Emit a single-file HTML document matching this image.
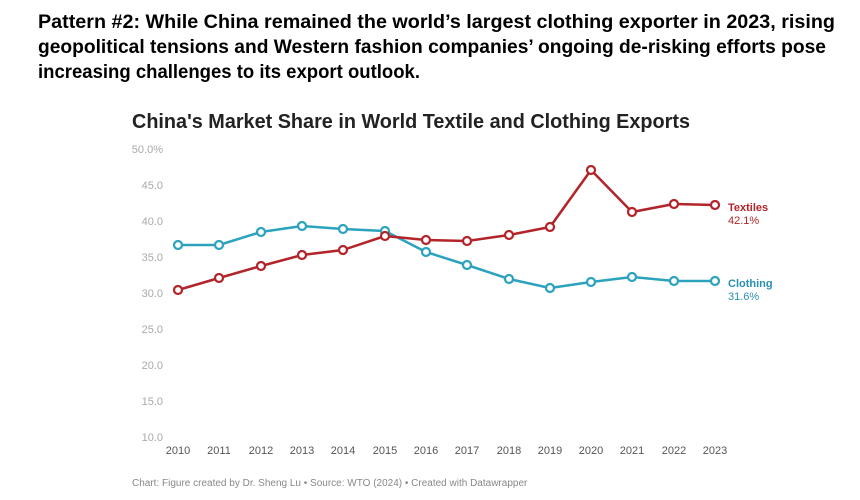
<!DOCTYPE html>
<html><head><meta charset="utf-8"><style>
body{margin:0;background:#fff;width:860px;height:500px;overflow:hidden;font-family:"Liberation Sans",sans-serif}
</style></head><body>
<svg width="860" height="500" style="position:absolute;left:0;top:0" font-family="Liberation Sans, sans-serif">
<g font-size="19" font-weight="bold" fill="#000">
<text x="38" y="28" textLength="797" lengthAdjust="spacingAndGlyphs">Pattern #2: While China remained the world’s largest clothing exporter in 2023, rising</text>
<text x="38" y="53" textLength="788" lengthAdjust="spacingAndGlyphs">geopolitical tensions and Western fashion companies’ ongoing de-risking efforts pose</text>
<text x="38" y="78" textLength="382" lengthAdjust="spacingAndGlyphs">increasing challenges to its export outlook.</text>
</g>
<text x="132" y="128" font-size="20" font-weight="bold" fill="#222" textLength="558" lengthAdjust="spacingAndGlyphs">China's Market Share in World Textile and Clothing Exports</text>
<g font-size="11" fill="#aaa" text-anchor="end">
<text x="163" y="153">50.0%</text><text x="163" y="189">45.0</text><text x="163" y="225">40.0</text><text x="163" y="261">35.0</text><text x="163" y="297">30.0</text><text x="163" y="333">25.0</text><text x="163" y="369">20.0</text><text x="163" y="405">15.0</text><text x="163" y="441">10.0</text>
</g>
<g font-size="11" fill="#555" text-anchor="middle">
<text x="178" y="454">2010</text><text x="219" y="454">2011</text><text x="261" y="454">2012</text><text x="302" y="454">2013</text><text x="343" y="454">2014</text><text x="385" y="454">2015</text><text x="426" y="454">2016</text><text x="467" y="454">2017</text><text x="509" y="454">2018</text><text x="550" y="454">2019</text><text x="591" y="454">2020</text><text x="632" y="454">2021</text><text x="674" y="454">2022</text><text x="715" y="454">2023</text>
</g>
<g fill="none" stroke-width="2.5" stroke-linejoin="round">
<polyline stroke="#2ba3bd" points="178,245 219,245 261,232 302,226 343,229 385,231 426,252 467,265 509,279 550,288 591,282 632,277 674,281 715,281"/>
<polyline stroke="#b2242a" points="178,290 219,278 261,266 302,255 343,250 385,236 426,240 467,241 509,235 550,227 591,170 632,212 674,204 715,205"/>
</g>
<g fill="#fff" stroke="#2ba3bd" stroke-width="2.2">
<circle cx="178" cy="245" r="4"/><circle cx="219" cy="245" r="4"/><circle cx="261" cy="232" r="4"/><circle cx="302" cy="226" r="4"/><circle cx="343" cy="229" r="4"/><circle cx="385" cy="231" r="4"/><circle cx="426" cy="252" r="4"/><circle cx="467" cy="265" r="4"/><circle cx="509" cy="279" r="4"/><circle cx="550" cy="288" r="4"/><circle cx="591" cy="282" r="4"/><circle cx="632" cy="277" r="4"/><circle cx="674" cy="281" r="4"/><circle cx="715" cy="281" r="4"/>
</g>
<g fill="#fff" stroke="#b2242a" stroke-width="2.2">
<circle cx="178" cy="290" r="4"/><circle cx="219" cy="278" r="4"/><circle cx="261" cy="266" r="4"/><circle cx="302" cy="255" r="4"/><circle cx="343" cy="250" r="4"/><circle cx="385" cy="236" r="4"/><circle cx="426" cy="240" r="4"/><circle cx="467" cy="241" r="4"/><circle cx="509" cy="235" r="4"/><circle cx="550" cy="227" r="4"/><circle cx="591" cy="170" r="4"/><circle cx="632" cy="212" r="4"/><circle cx="674" cy="204" r="4"/><circle cx="715" cy="205" r="4"/>
</g>
<text x="728" y="211" font-size="11" font-weight="bold" fill="#b2242a">Textiles</text>
<text x="728" y="224" font-size="11" fill="#b2242a">42.1%</text>
<text x="728" y="287" font-size="11" font-weight="bold" fill="#2b8fb0">Clothing</text>
<text x="728" y="300" font-size="11" fill="#2b8fb0">31.6%</text>
<text x="132" y="486" font-size="10" fill="#888">Chart: Figure created by Dr. Sheng Lu • Source: WTO (2024)  • Created with Datawrapper</text>
</svg>
</body></html>
